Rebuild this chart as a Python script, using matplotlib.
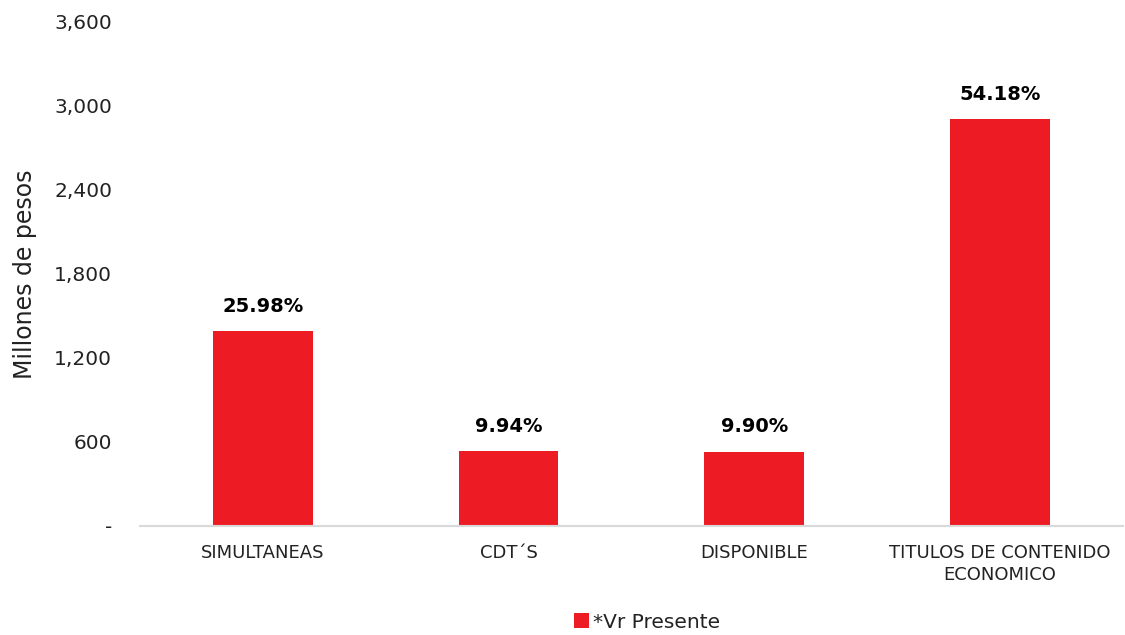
import numpy as np
from matplotlib import pyplot as plt
from matplotlib.ticker import FuncFormatter

plt.rcParams['font.family'] = ['DejaVu Sans']

categorias = ['SIMULTANEAS', 'CDT´S', 'DISPONIBLE', 'TITULOS DE CONTENIDO\nECONOMICO']
valores = [1394, 533, 531, 2907]
porcentajes = ['25.98%', '9.94%', '9.90%', '54.18%']
y_ticks = [0, 600, 1200, 1800, 2400, 3000, 3600]

rojo = '#ED1C24'

fig = plt.figure(figsize=(11.25, 6.35), dpi=100)
ax = fig.add_axes([0.1244, 0.1717, 0.8736, 0.7937])

x = np.arange(len(categorias))
barras = ax.bar(x, valores, width=0.405, color=rojo, label='*Vr Presente', zorder=2)

for rect, txt in zip(barras, porcentajes):
    ax.annotate(txt, (rect.get_x() + rect.get_width() / 2, rect.get_height()),
                xytext=(0, 11), textcoords='offset points',
                ha='center', va='bottom', fontsize=14, fontweight='bold', color='black')

ax.set_xlim(-0.5, len(categorias) - 0.5)
ax.set_ylim(0, 3600)
ax.set_yticks(y_ticks)
ax.yaxis.set_major_formatter(FuncFormatter(lambda v, p: '-' if v == 0 else f'{v:,.0f}'))
ax.set_xticks(x, categorias)

ax.tick_params(axis='y', length=0, pad=20, labelsize=14.5, labelcolor='#222222')
ax.tick_params(axis='x', length=0, pad=13, labelsize=13, labelcolor='#222222')
for lab in ax.get_xticklabels():
    lab.set_linespacing(1.25)

for s in ['top', 'right', 'left']:
    ax.spines[s].set_visible(False)
ax.spines['bottom'].set_color('#D9D9D9')
ax.spines['bottom'].set_linewidth(1.5)

ax.set_ylabel('Millones de pesos', fontsize=17, color='#222222')
ax.yaxis.set_label_coords(-0.105, 0.5)

fig.legend(loc='lower center', bbox_to_anchor=(0.575, -0.02), frameon=False,
           fontsize=14.5, handlelength=0.75, handleheight=0.75, handletextpad=0.2,
           labelcolor='#222222', borderpad=0.3)

fig.savefig('out.png', dpi=100, facecolor='white')
